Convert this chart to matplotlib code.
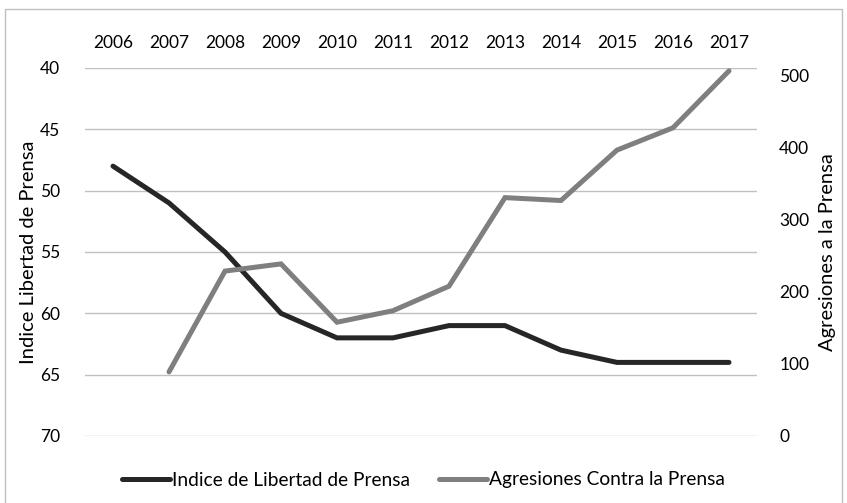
import matplotlib
matplotlib.use("Agg")
import matplotlib.pyplot as plt
from matplotlib.patches import Rectangle

years = ["2006", "2007", "2008", "2009", "2010", "2011", "2012", "2013", "2014", "2015", "2016", "2017"]
indice = [48, 51, 55, 60, 62, 62, 61, 61, 63, 64, 64, 64]
agresiones_years = ["2007", "2008", "2009", "2010", "2011", "2012", "2013", "2014", "2015", "2016", "2017"]
agresiones = [89, 229, 239, 158, 174, 208, 331, 327, 397, 428, 507]
left_ticks = [40, 45, 50, 55, 60, 65, 70]
right_ticks = [0, 100, 200, 300, 400, 500]

plt.rcParams['font.family'] = ['Lato', 'DejaVu Sans']

fig = plt.figure(figsize=(8.47, 5.03), dpi=100)
ax = fig.add_axes([85/847, 1-436/503, (757-85)/847, (436-68)/503])
ax2 = ax.twinx()

x_all = list(range(len(years)))
x_ag = [years.index(y) for y in agresiones_years]

black = "#262626"
gray = "#7f7f7f"

l1, = ax.plot(x_all, indice, color=black, lw=3.6, solid_capstyle='round', solid_joinstyle='miter', zorder=3,
              label="Indice de Libertad de Prensa")
l2, = ax2.plot(x_ag, agresiones, color=gray, lw=3.6, solid_capstyle='round', solid_joinstyle='miter', zorder=3,
               label="Agresiones Contra la Prensa")

ax.set_ylim(70, 40)
ax.set_yticks(left_ticks)
ax.set_xlim(-0.5, len(years) - 0.5)
ax.set_xticks(x_all)
ax.set_xticklabels(years)
ax.xaxis.tick_top()
ax2.set_ylim(0, 511)
ax2.set_yticks(right_ticks)

ax.grid(axis='y', color='#c0c0c0', lw=1.0)
ax.set_axisbelow(True)
for a in (ax, ax2):
    for s in a.spines.values():
        s.set_visible(False)
    a.tick_params(length=0, labelsize=12.5, colors='black')
ax.tick_params(axis='y', pad=18)
ax.tick_params(axis='x', pad=12)
ax2.tick_params(axis='y', pad=16)

ax.set_ylabel("Indice Libertad de Prensa", fontsize=14.5)
ax.yaxis.set_label_coords(-0.071, 0.5)
ax2.set_ylabel("Agresiones a la Prensa", fontsize=14.5, rotation=90)
ax2.yaxis.set_label_coords(1.093, 0.5)

fig.legend(handles=[l1, l2], loc='center', bbox_to_anchor=(0.5, 1-480/503), ncol=2, frameon=False,
           fontsize=13.8, handlelength=2.5, handletextpad=0.1, columnspacing=1.5)

fig.add_artist(Rectangle((5/847, -0.1), (842-5)/847, 1.1 - 9/503, transform=fig.transFigure,
                         fill=False, edgecolor='#bfbfbf', lw=1.0))

fig.savefig("out.png", dpi=100)
